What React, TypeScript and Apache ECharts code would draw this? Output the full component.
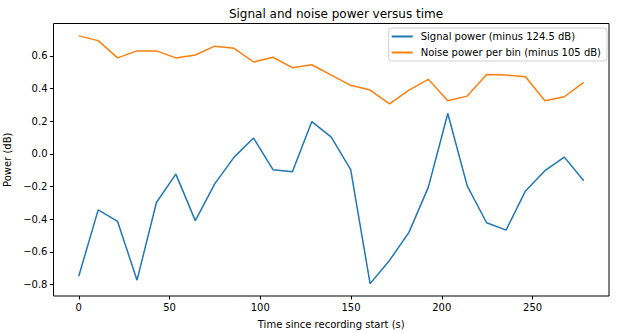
import React, { useEffect, useRef } from "react";
import * as echarts from "echarts";

const timeStep = 10.7;
const signalPower = [
  -0.75, -0.343, -0.414, -0.774, -0.298, -0.124, -0.409, -0.184, -0.02, 0.097,
  -0.097, -0.11, 0.198, 0.103, -0.097, -0.795, -0.653, -0.481, -0.204, 0.247,
  -0.196, -0.422, -0.467, -0.227, -0.103, -0.02, -0.165,
];
const noisePower = [
  0.723, 0.694, 0.588, 0.631, 0.631, 0.588, 0.606, 0.66, 0.647, 0.563,
  0.592, 0.528, 0.546, 0.483, 0.42, 0.391, 0.307, 0.391, 0.457, 0.325,
  0.354, 0.487, 0.483, 0.473, 0.325, 0.35, 0.438,
];
const times = signalPower.map((_, i) => +(i * timeStep).toFixed(2));

const seriesNames = ["Signal power (minus 124.5 dB)", "Noise power per bin (minus 105 dB)"];
const titleText = "Signal and noise power versus time";
const xLabel = "Time since recording start (s)";
const yLabel = "Power (dB)";

const font = "DejaVu Sans";

export default function App() {
  const ref = useRef<HTMLDivElement>(null);
  useEffect(() => {
    if (!ref.current) return;
    const chart = echarts.init(ref.current, null, { renderer: "svg" });
    const allVals = [...signalPower, ...noisePower];
    const yMinD = Math.min(...allVals);
    const yMaxD = Math.max(...allVals);
    const yPad = (yMaxD - yMinD) * 0.05;
    const xMaxD = times[times.length - 1];
    const xPad = xMaxD * 0.05;
    chart.setOption({
      animation: false,
      textStyle: { fontFamily: font },
      title: {
        text: titleText,
        left: 331,
        textAlign: "center",
        top: 3,
        textStyle: { fontSize: 12, fontWeight: "normal", color: "#000", fontFamily: font },
      },
      legend: {
        orient: "vertical",
        right: 10,
        top: 28,
        padding: [2, 6, 2, 3],
        itemGap: 3,
        itemWidth: 21,
        itemHeight: 2,
        icon: "rect",
        backgroundColor: "#fff",
        borderColor: "#d0d0d0",
        borderWidth: 1,
        borderRadius: 3,
        textStyle: { fontSize: 10, color: "#000", lineHeight: 13, padding: [0, 0, 0, 3], fontFamily: font },
        data: seriesNames,
      },
      grid: {
        left: 53.5,
        right: 8,
        top: 23.5,
        bottom: 37,
        show: true,
        borderColor: "#000",
        borderWidth: 1,
        backgroundColor: "transparent",
        containLabel: false,
        outerBoundsMode: "none",
      },
      xAxis: {
        type: "value",
        min: -xPad,
        max: xMaxD + xPad,
        minInterval: 50,
        maxInterval: 50,
        name: xLabel,
        nameLocation: "middle",
        nameGap: 23,
        nameTextStyle: { fontSize: 10, color: "#000", fontFamily: font },
        axisLine: { show: false, onZero: false },
        axisTick: { show: true, length: 3.5, lineStyle: { color: "#000" } },
        splitLine: { show: false },
        axisLabel: {
          fontSize: 10,
          color: "#000",
          margin: 6,
          showMinLabel: false,
          showMaxLabel: false,
          fontFamily: font,
          formatter: (v: number) => (Math.abs(v % 50) < 1e-6 ? String(Math.round(v)) : ""),
        },
      },
      yAxis: {
        type: "value",
        min: yMinD - yPad,
        max: yMaxD + yPad,
        minInterval: 0.2,
        maxInterval: 0.2,
        name: yLabel,
        nameLocation: "middle",
        nameGap: 29,
        nameTextStyle: { fontSize: 10, color: "#000", fontFamily: font },
        axisLine: { show: false, onZero: false },
        axisTick: { show: true, length: 3.5, lineStyle: { color: "#000" } },
        splitLine: { show: false },
        axisLabel: {
          fontSize: 10,
          color: "#000",
          margin: 6,
          showMinLabel: false,
          showMaxLabel: false,
          fontFamily: font,
          formatter: (v: number) => {
            const r = Math.round(v * 10) / 10;
            if (Math.abs(v - r) > 1e-6) return "";
            return r.toFixed(1).replace("-", "\u2212");
          },
        },
      },
      series: [
        {
          name: seriesNames[0],
          type: "line",
          data: times.map((t, i) => [t, signalPower[i]]),
          symbol: "none",
          lineStyle: { color: "#1f77b4", width: 1.5 },
          itemStyle: { color: "#1f77b4" },
        },
        {
          name: seriesNames[1],
          type: "line",
          data: times.map((t, i) => [t, noisePower[i]]),
          symbol: "none",
          lineStyle: { color: "#ff7f0e", width: 1.5 },
          itemStyle: { color: "#ff7f0e" },
        },
      ],
    });
    return () => chart.dispose();
  }, []);
  return <div ref={ref} style={{ width: 617, height: 333, position: "absolute", left: 0, top: 0 }} />;
}
